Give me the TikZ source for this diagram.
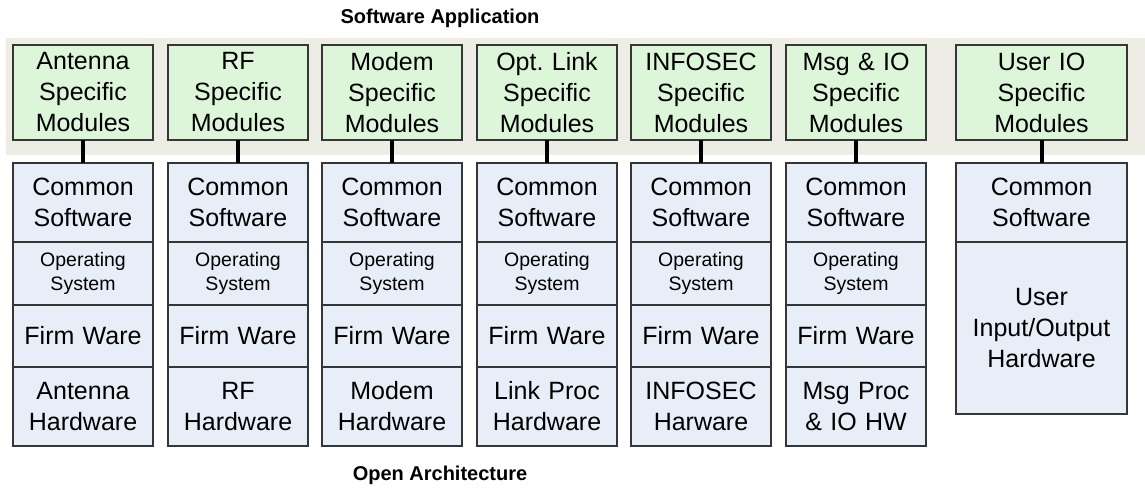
\documentclass[tikz,border=0pt]{standalone}
\usepackage{fontspec}
\setmainfont{Liberation Sans}
\frenchspacing
\definecolor{bandgray}{HTML}{EDEDE5}
\definecolor{modgreen}{HTML}{DDF6DA}
\definecolor{stackblue}{HTML}{E8EEF7}
\definecolor{edgegray}{HTML}{363636}
\begin{document}
\begin{tikzpicture}[
    x=1pt, y=-1pt,
    layer/.style={rectangle, draw=edgegray, line width=1.5pt, inner sep=0pt, outer sep=0pt,
        minimum width=140pt, text width=136pt, align=center, font=\fontsize{25}{31}\selectfont},
    module/.style={layer, fill=modgreen, minimum height=95pt},
    swbox/.style={layer, fill=stackblue, minimum height=79pt},
    osbox/.style={layer, fill=stackblue, minimum height=63pt, font=\fontsize{19.5}{24}\selectfont},
    fwbox/.style={layer, fill=stackblue, minimum height=62pt},
    hwbox/.style={layer, fill=stackblue, minimum height=79pt},
    wide/.style={minimum width=171pt, text width=167pt},
    link/.style={line width=4pt, black},
    title/.style={font=\bfseries\fontsize{20}{24}\selectfont}
]
\useasboundingbox (0,0) rectangle (1145,488);

% Application band
\fill[bandgray] (6,38) rectangle (1145,155);
\node[title] (apptitle) at (440,18) {Software Application};

% Specific modules
\node[module] (antmod) at (83,92.5) {Antenna\\Specific\\Modules};
\node[module] (rfmod) at (238,92.5) {RF\\Specific\\Modules};
\node[module] (modemmod) at (392,92.5) {Modem\\Specific\\Modules};
\node[module] (linkmod) at (547,92.5) {Opt. Link\\Specific\\Modules};
\node[module] (secmod) at (701,92.5) {INFOSEC\\Specific\\Modules};
\node[module] (msgmod) at (856,92.5) {Msg \& IO\\Specific\\Modules};
\node[module, wide] (usermod) at (1041.5,92.5) {User IO\\Specific\\Modules};

% Common software
\node[swbox] (antsw) at (83,202.5) {Common\\Software};
\node[swbox] (rfsw) at (238,202.5) {Common\\Software};
\node[swbox] (modemsw) at (392,202.5) {Common\\Software};
\node[swbox] (linksw) at (547,202.5) {Common\\Software};
\node[swbox] (secsw) at (701,202.5) {Common\\Software};
\node[swbox] (msgsw) at (856,202.5) {Common\\Software};
\node[swbox, wide] (usersw) at (1041.5,202.5) {Common\\Software};

% Operating system
\node[osbox] (antos) at (83,273.5) {Operating\\System};
\node[osbox] (rfos) at (238,273.5) {Operating\\System};
\node[osbox] (modemos) at (392,273.5) {Operating\\System};
\node[osbox] (linkos) at (547,273.5) {Operating\\System};
\node[osbox] (secos) at (701,273.5) {Operating\\System};
\node[osbox] (msgos) at (856,273.5) {Operating\\System};

% Firm ware
\node[fwbox] (antfw) at (83,336) {Firm Ware};
\node[fwbox] (rffw) at (238,336) {Firm Ware};
\node[fwbox] (modemfw) at (392,336) {Firm Ware};
\node[fwbox] (linkfw) at (547,336) {Firm Ware};
\node[fwbox] (secfw) at (701,336) {Firm Ware};
\node[fwbox] (msgfw) at (856,336) {Firm Ware};

% Hardware
\node[hwbox] (anthw) at (83,406.5) {Antenna\\Hardware};
\node[hwbox] (rfhw) at (238,406.5) {RF\\Hardware};
\node[hwbox] (modemhw) at (392,406.5) {Modem\\Hardware};
\node[hwbox] (linkhw) at (547,406.5) {Link Proc\\Hardware};
\node[hwbox] (sechw) at (701,406.5) {INFOSEC\\Harware};
\node[hwbox] (msghw) at (856,406.5) {Msg Proc\\\& IO HW};
\node[layer, wide, fill=stackblue, minimum height=172pt] (userhw) at (1041.5,328) {User\\Input/Output\\Hardware};

% Connections
\draw[link] (antmod) -- (antsw);
\draw[link] (rfmod) -- (rfsw);
\draw[link] (modemmod) -- (modemsw);
\draw[link] (linkmod) -- (linksw);
\draw[link] (secmod) -- (secsw);
\draw[link] (msgmod) -- (msgsw);
\draw[link] (usermod) -- (usersw);

\node[title] (archtitle) at (440,475) {Open Architecture};

\end{tikzpicture}
\end{document}
